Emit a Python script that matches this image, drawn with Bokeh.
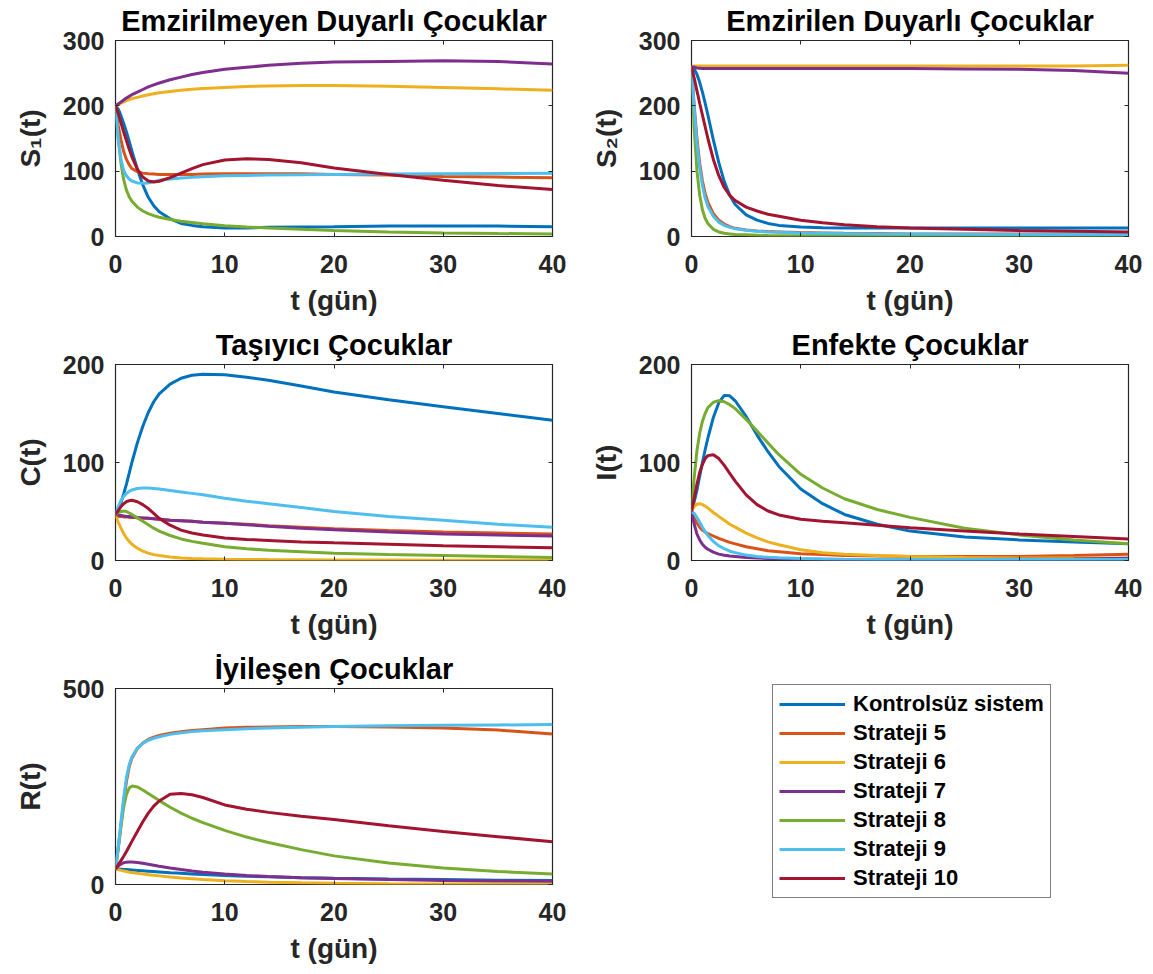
from bokeh.plotting import figure
from bokeh.models import Range1d, FixedTicker, LinearAxis, Legend, LegendItem
from bokeh.layouts import row, column
from bokeh.embed import file_html
from bokeh.resources import INLINE

# ---------------- data ----------------
t = [0, 0.25, 0.5, 0.75, 1, 1.25, 1.5, 2, 2.5, 3, 3.5, 4, 5, 6, 7, 8, 10, 12, 14, 17, 20, 25, 30, 35, 40]

names = ["Kontrolsüz sistem", "Strateji 5", "Strateji 6", "Strateji 7",
         "Strateji 8", "Strateji 9", "Strateji 10"]
colors = ["#0072BD", "#D95319", "#EDB120", "#7E2F8E", "#77AC30", "#4DBEEE", "#A2142F"]

# S1 - Emzirilmeyen Duyarlı Çocuklar
s1_k  = [200, 195, 185, 173, 160, 146, 131, 103, 79, 60, 47, 38, 27, 20, 17, 15, 13, 13, 14, 14.5, 15, 16, 16, 16, 15]
s1_5  = [200, 170, 148, 130, 118, 110, 104, 99, 97, 96, 95.5, 95, 95, 95, 95, 95.5, 96, 96, 96, 96, 95, 94, 92, 91, 90]
s1_6  = [200, 202, 204, 206, 208, 209.5, 211, 213, 215, 217, 218.5, 220, 222, 224, 225.5, 226.5, 228, 229.5, 230.5, 231, 231, 230, 228, 226, 224]
s1_7  = [200, 203, 206, 209, 212, 214.5, 217, 221, 225, 229, 232, 235, 240, 244, 248, 251, 256, 259, 262, 265, 267, 268, 269, 268, 264]
s1_8  = [200, 150, 112, 87, 71, 61, 54, 45, 39, 35, 32, 29.5, 26, 23.5, 21.5, 19.5, 16.5, 14.5, 13, 11, 9, 7, 5.5, 4.5, 4]
s1_9  = [200, 150, 118, 101, 93, 88, 85, 82, 81.5, 82, 84, 86, 88, 89.5, 90.5, 91.5, 93, 93.5, 94, 94.5, 95, 95.5, 96, 96.5, 97]
s1_10 = [200, 188, 174, 160, 147, 134, 122, 103, 91, 85, 83.5, 84.5, 90, 97, 104, 110, 117, 119, 118, 113, 105, 95, 86, 78, 72]

# S2 - Emzirilen Duyarlı Çocuklar
s2_k  = [260, 256, 248, 236, 221, 204, 186, 148, 113, 84, 63, 49, 33, 25, 20, 17, 14.5, 13.5, 13, 13, 13, 13, 13, 13, 13]
s2_5  = [260, 200, 150, 112, 85, 66, 52, 35, 25, 19, 15, 12.5, 10, 8.5, 7.5, 7, 6, 5.5, 5, 4.5, 4, 4, 4, 4, 4]
s2_6  = [260, 261, 261, 261, 261, 261, 261, 261, 261, 261, 261, 261, 261, 261, 261, 261, 261, 261, 261, 261, 261, 261, 261, 261, 262]
s2_7  = [260, 259, 258, 257.5, 257, 257, 257, 257, 257, 257, 257, 257, 257, 257, 257, 257, 257, 257, 257, 257, 257, 256.5, 256, 254, 250]
s2_8  = [260, 165, 100, 63, 41, 28, 20, 11, 7, 5, 4, 3, 2.5, 2, 1.5, 1.3, 1, 1, 1, 0.8, 0.7, 0.6, 0.5, 0.5, 0.5]
s2_9  = [260, 195, 142, 105, 78, 59, 46, 31, 22, 17, 14, 12, 9.5, 8, 7, 6.5, 5.5, 5, 4.5, 4, 4, 3.5, 3, 3, 3]
s2_10 = [260, 242, 223, 204, 186, 168, 150, 118, 93, 75, 63, 55, 45, 39, 34, 31, 25, 21, 18, 15, 13, 11, 9, 8, 7]

# C - Taşıyıcı Çocuklar
c_k  = [47, 52, 59, 68, 78, 89, 100, 120, 137, 151, 162, 170, 180, 186, 189, 190, 189.5, 187, 184, 178, 172, 164, 157, 150, 143]
c_5  = [45, 45, 45, 44.5, 44.5, 44, 44, 43.5, 43, 43, 42.5, 42, 41, 40.5, 40, 39, 38, 37, 35.5, 34, 32.5, 30.5, 29, 28, 27]
c_6  = [47, 39, 33, 27.5, 23, 19.5, 16.5, 12.5, 9.5, 7.5, 6, 5, 3.5, 2.6, 2.1, 1.8, 1.4, 1.1, 0.9, 0.7, 0.5, 0.4, 0.3, 0.3, 0.3]
c_7  = [47, 46.5, 46, 45.5, 45, 45, 44.5, 44, 43.5, 43, 42.5, 42, 41, 40.5, 40, 39, 38, 36.5, 35, 33, 31.5, 29, 27, 26, 25]
c_8  = [47, 49, 50, 50.5, 50, 48.5, 47, 43.5, 40, 36.5, 33, 30, 25.5, 22, 19.5, 17.5, 14, 12, 10.5, 9, 7.5, 6, 5, 4, 3]
c_9  = [47, 55, 61, 65.5, 68.5, 70.5, 72, 73.5, 74, 74, 73.5, 73, 71.5, 70, 68.5, 67, 63.5, 60.5, 58, 54, 50, 45, 41, 37, 34]
c_10 = [47, 51, 55, 58, 60, 61, 61.5, 60, 57, 53, 48, 43, 36, 31, 28, 26, 23, 21.5, 20.5, 19, 18, 16.5, 15, 14, 13]

# I - Enfekte Çocuklar
i_k  = [50, 60, 72, 86, 100, 113, 125, 146, 161, 168.5, 168, 163, 147, 128, 111, 96, 73, 58, 47, 37, 30, 24, 21, 19, 17]
i_5  = [50, 43, 38, 34, 31, 29, 27.5, 25, 22.5, 20.5, 18.5, 17, 14, 12, 10, 9, 7, 6, 5, 4.5, 4, 4, 4, 5, 6.5]
i_6  = [50, 55, 57.5, 58, 57, 55.5, 53.5, 49, 45, 41, 37, 34, 28, 23, 19, 16, 11, 8, 6.5, 5, 4, 3, 2.5, 2.5, 2.4]
i_7  = [50, 37, 27, 21, 16.5, 13.5, 11.5, 8.5, 6.5, 5.3, 4.5, 4, 3, 2.5, 2.1, 1.8, 1.4, 1.2, 1, 1, 1, 1, 1.2, 1.6, 2.4]
i_8  = [50, 85, 112, 130, 142, 150, 156, 161.5, 163, 162, 159, 155, 144, 132, 120, 108, 88, 74, 63, 52, 44, 33, 26, 21, 17]
i_9  = [50, 48, 44, 39, 34, 29.5, 25.5, 19.5, 15, 12, 9.5, 8, 5.5, 4, 3.2, 2.7, 2, 1.6, 1.3, 1.1, 1, 1, 1, 1, 1]
i_10 = [50, 64, 78, 90, 98, 104, 107, 108, 104, 97, 89, 81, 67, 57, 50.5, 46.5, 42, 40, 38.5, 36, 33.5, 30, 27, 24.5, 22]

# R - İyileşen Çocuklar
r_k  = [40, 39.5, 39, 38.5, 38, 37.5, 37, 36, 35, 34, 33, 32, 30, 28.5, 27, 25.5, 23, 21, 19.5, 17.5, 16, 14, 12.5, 11, 10]
r_5  = [40, 90, 150, 212, 262, 300, 322, 347, 361, 370, 376, 380, 386, 390, 393, 395, 399, 401, 402, 403, 403, 402, 399, 394, 384]
r_6  = [40, 38, 36, 34.5, 33, 31.5, 30.5, 28.5, 26.5, 25, 23.5, 22, 19, 16.5, 14.5, 12.5, 9.5, 7.5, 6, 4.5, 3.2, 2, 1.5, 1.2, 1]
r_7  = [40, 47, 52, 55.5, 57, 57.5, 57.5, 56, 54, 51.5, 49, 46.5, 42, 38, 34.5, 31.5, 26.5, 23, 20.5, 17.5, 15, 12.5, 10.5, 9, 8]
r_8  = [40, 95, 150, 198, 230, 246, 251, 249, 241, 232, 223, 214, 197, 182, 169, 158, 138, 121, 107, 89, 73, 55, 42, 33, 27]
r_9  = [40, 95, 160, 222, 272, 305, 325, 348, 360, 368, 373, 377, 383, 387, 390, 392, 395, 397.5, 399, 401, 403, 405, 406, 407, 408]
r_10 = [40, 50, 61, 72, 84, 97, 110, 135, 160, 182, 200, 213, 230, 232, 229, 222, 203, 192, 184, 174, 166, 150, 135, 122, 109]

x_ticks = [0, 10, 20, 30, 40]
panels = [
    ("Emzirilmeyen Duyarlı Çocuklar", "S\u2081(t)", (0, 300), [0, 100, 200, 300],
     [s1_k, s1_5, s1_6, s1_7, s1_8, s1_9, s1_10]),
    ("Emzirilen Duyarlı Çocuklar", "S\u2082(t)", (0, 300), [0, 100, 200, 300],
     [s2_k, s2_5, s2_6, s2_7, s2_8, s2_9, s2_10]),
    ("Taşıyıcı Çocuklar", "C(t)", (0, 200), [0, 100, 200],
     [c_k, c_5, c_6, c_7, c_8, c_9, c_10]),
    ("Enfekte Çocuklar", "I(t)", (0, 200), [0, 100, 200],
     [i_k, i_5, i_6, i_7, i_8, i_9, i_10]),
    ("İyileşen Çocuklar", "R(t)", (0, 500), [0, 500],
     [r_k, r_5, r_6, r_7, r_8, r_9, r_10]),
]

FONT = "Liberation Sans"
AX = "#262626"


def make_panel(title, ylabel, yr, yt, series):
    p = figure(width=576, height=328, x_range=Range1d(0, 40), y_range=Range1d(*yr),
               toolbar_location=None, output_backend="svg",
               min_border_left=115, min_border_right=24,
               min_border_top=44, min_border_bottom=88, margin=(-4, 0, 0, 0))
    p.background_fill_color = "white"
    p.border_fill_color = "white"
    p.grid.grid_line_color = None
    p.outline_line_color = AX
    p.outline_line_width = 1.2
    p.title.text = title
    p.title.text_font = FONT
    p.title.text_font_style = "bold"
    p.title.text_font_size = "29px"
    p.title.text_color = "black"
    p.title.align = "center"
    p.title.standoff = 8
    p.xaxis.ticker = FixedTicker(ticks=x_ticks)
    p.yaxis.ticker = FixedTicker(ticks=yt)
    p.xaxis.axis_label = "t (gün)"
    p.yaxis.axis_label = ylabel
    for ax in (p.xaxis, p.yaxis):
        ax.axis_line_color = None
        ax.major_tick_in = 4
        ax.major_tick_out = 0
        ax.major_tick_line_color = AX
        ax.minor_tick_line_color = None
        ax.major_label_text_font = FONT
        ax.major_label_text_font_style = "bold"
        ax.major_label_text_font_size = "25px"
        ax.major_label_text_color = AX
        ax.axis_label_text_font = FONT
        ax.axis_label_text_font_style = "bold"
        ax.axis_label_text_font_size = "28px"
        ax.axis_label_text_color = AX
    p.xaxis.major_label_standoff = 18
    p.yaxis.major_label_standoff = 11
    p.xaxis.axis_label_standoff = 9
    p.yaxis.axis_label_standoff = 14
    for loc, tk in (("above", x_ticks), ("right", yt)):
        a = LinearAxis(ticker=FixedTicker(ticks=tk), major_label_text_font_size="1px",
                       major_label_text_color=None,
                       major_label_standoff=0, major_tick_in=4, major_tick_out=0,
                       major_tick_line_color=AX, axis_line_color=None,
                       minor_tick_line_color=None)
        p.add_layout(a, loc)
    for ys, c in zip(series, colors):
        p.line(t, ys, line_color=c, line_width=3)
    return p


figs = [make_panel(*pn) for pn in panels]

# legend panel
pl = figure(width=576, height=328, x_range=Range1d(1000, 1001), y_range=Range1d(1000, 1001),
            toolbar_location=None, output_backend="svg", margin=(-4, 0, 0, 0),
            min_border_left=115, min_border_right=24, min_border_top=0, min_border_bottom=0,
            x_axis_location=None, y_axis_location=None)
pl.grid.grid_line_color = None
pl.outline_line_color = None
items = []
for ys, c, n in zip(panels[4][4], colors, names):
    r = pl.line(t, ys, line_color=c, line_width=3)
    items.append(LegendItem(label=n, renderers=[r]))
leg = Legend(items=items, location=(81, 74), margin=0, padding=6, spacing=3,
             glyph_width=66, glyph_height=20, label_height=20, label_standoff=8,
             label_text_font=FONT, label_text_font_style="bold",
             label_text_font_size="22px", label_text_color="black",
             border_line_color="black", border_line_width=1,
             background_fill_color="white", background_fill_alpha=1)
pl.add_layout(leg, "center")

layout = row(column(figs[0], figs[2], figs[4]), column(figs[1], figs[3], pl))
open("out.html", "w").write(file_html(layout, INLINE))
